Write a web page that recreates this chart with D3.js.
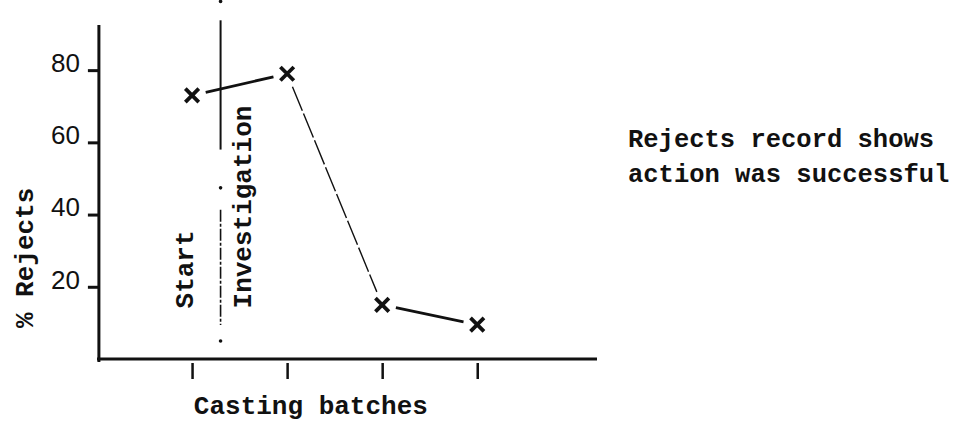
<!DOCTYPE html>
<html>
<head>
<meta charset="utf-8">
<script src="https://cdn.jsdelivr.net/npm/d3@7"></script>
<style>
  body { margin: 0; background: #fff; }
  svg { display: block; }
  .mono { font-family: "Liberation Mono", "Courier New", monospace; font-weight: bold; fill: #111; }
</style>
</head>
<body>
<svg id="svg1" width="961" height="425"></svg>
<script>
// data
var batches = [1, 2, 3, 4];
var rejects = [73, 79, 15, 9.5];
var yTicks = [20, 40, 60, 80];
var investigationAt = 1.3;   // batch position of the "Start Investigation" line
var noteLines = ['Rejects record shows', 'action was successful'];

var svg = d3.select('#svg1');

var x = d3.scaleLinear().domain([0, 5.26]).range([97, 597]);
var y = d3.scaleLinear().domain([0, 92.5]).range([359, 25]);

// axes
var yAxis = d3.axisLeft(y).tickValues(yTicks).tickSize(11).tickPadding(8);
var yg = svg.append('g').attr('transform', 'translate(' + x(0.02) + ',0)').call(yAxis);
yg.select('.domain').attr('d', 'M0,' + y(92.5) + 'V' + (y(0) + 3));
yg.selectAll('path, line').attr('stroke', '#111').attr('stroke-width', 3);
yg.selectAll('text')
    .attr('font-family', 'Liberation Sans, Arial, sans-serif')
    .attr('font-size', 26)
    .attr('fill', '#111')
    .attr('dy', '0.05em');

var xAxis = d3.axisBottom(x).tickValues(batches).tickSize(20).tickFormat('');
var xg = svg.append('g').attr('transform', 'translate(0,' + y(0) + ')').call(xAxis);
xg.select('.domain').attr('d', 'M' + x(0) + ',0H' + x(5.26));
xg.selectAll('.domain').attr('stroke', '#111').attr('stroke-width', 3.2);
xg.selectAll('.tick line').attr('stroke', '#111').attr('stroke-width', 2.5).attr('y1', 4);

// axis titles
svg.append('text').attr('class', 'mono')
    .attr('transform', 'translate(33,' + y(28) + ') rotate(-90)')
    .attr('text-anchor', 'middle')
    .attr('font-size', 26)
    .text('% Rejects');

svg.append('text').attr('class', 'mono')
    .attr('x', x(2.25)).attr('y', 414)
    .attr('text-anchor', 'middle')
    .attr('font-size', 26)
    .text('Casting batches');

// start of investigation marker line (dash-dot)
var xi = x(investigationAt);
svg.append('line')
    .attr('x1', xi).attr('x2', xi)
    .attr('y1', y(93.8)).attr('y2', y(58))
    .attr('stroke', '#111').attr('stroke-width', 2);
svg.append('line')
    .attr('x1', xi).attr('x2', xi)
    .attr('y1', y(41.3)).attr('y2', y(9.4))
    .attr('stroke', '#111').attr('stroke-width', 1.6)
    .attr('stroke-dasharray', '12,2,3,2');
svg.selectAll('.idot')
    .data([99, 47.4, 5])
    .enter().append('circle')
    .attr('class', 'idot')
    .attr('cx', xi).attr('cy', function(d) { return y(d); })
    .attr('r', 1.8).attr('fill', '#111');

svg.append('text').attr('class', 'mono')
    .attr('transform', 'translate(' + (xi - 28) + ',' + y(14) + ') rotate(-90)')
    .attr('font-size', 26)
    .text('Start');
svg.append('text').attr('class', 'mono')
    .attr('transform', 'translate(' + (xi + 30) + ',' + y(14) + ') rotate(-90)')
    .attr('font-size', 26)
    .text('Investigation');

// connecting segments, drawn short of the markers
var pts = batches.map(function(b, i) { return [x(b), y(rejects[i])]; });
var segs = d3.pairs(pts);
svg.selectAll('.seg')
    .data(segs)
    .enter().append('line')
    .attr('class', 'seg')
    .each(function(d, i) {
        var dx = d[1][0] - d[0][0], dy = d[1][1] - d[0][1];
        var len = Math.sqrt(dx * dx + dy * dy);
        var g = 14 / len;
        d3.select(this)
            .attr('x1', d[0][0] + dx * g).attr('y1', d[0][1] + dy * g)
            .attr('x2', d[1][0] - dx * g).attr('y2', d[1][1] - dy * g)
            .attr('stroke', '#111')
            .attr('stroke-width', i === 1 ? 1.4 : 2.8)
            .attr('stroke-dasharray', i === 1 ? '26,3' : null);
    });

// cross markers
svg.selectAll('.mark')
    .data(pts)
    .enter().append('path')
    .attr('class', 'mark')
    .attr('transform', function(d) { return 'translate(' + d[0] + ',' + d[1] + ')'; })
    .attr('d', d3.symbol().type(d3.symbolX).size(120))
    .attr('fill', 'none')
    .attr('stroke', '#111')
    .attr('stroke-width', 3.8);

// side note
svg.append('text').attr('class', 'mono')
    .attr('x', 628).attr('y', 147)
    .attr('font-size', 25.5)
    .selectAll('tspan')
    .data(noteLines)
    .enter().append('tspan')
    .attr('x', 628)
    .attr('dy', function(d, i) { return i === 0 ? 0 : 35; })
    .text(function(d) { return d; });
</script>
</body>
</html>
